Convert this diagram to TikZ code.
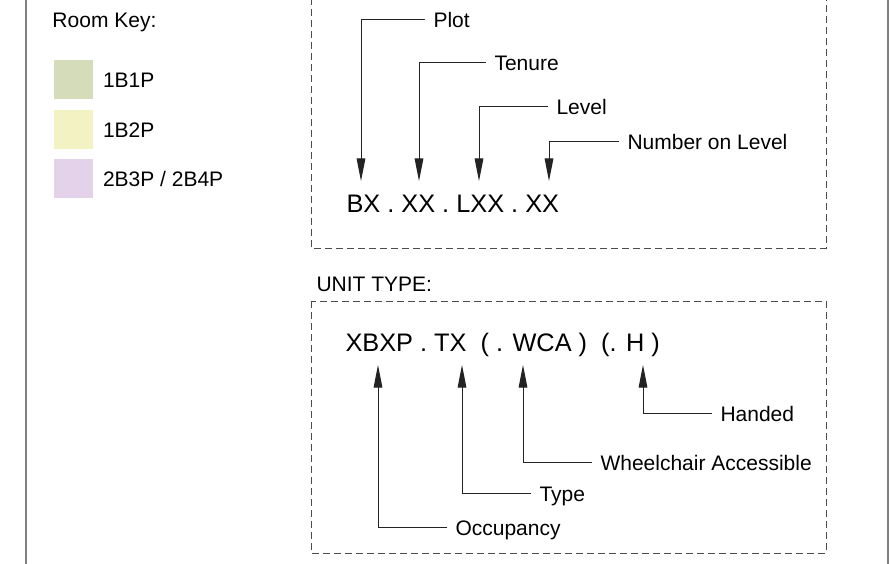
\documentclass[tikz,border=0pt]{standalone}
\usepackage{fontspec}
\setmainfont{Liberation Sans}
\usetikzlibrary{arrows.meta,positioning}

\definecolor{keygreen}{RGB}{213,220,185}
\definecolor{keyyellow}{RGB}{242,242,194}
\definecolor{keypurple}{RGB}{228,210,234}
\definecolor{edgegray}{RGB}{128,128,128}
\definecolor{leadgray}{RGB}{35,35,35}

\tikzset{every picture/.style={line width=0.75pt}}
\tikzset{
  keytext/.style={font=\fontsize{15.75}{18}\selectfont, inner sep=0pt, text height=12pt, text depth=0pt},
  labeltext/.style={keytext, anchor=west, inner xsep=6pt},
  codetext/.style={font=\fontsize{19}{22}\selectfont, inner sep=0pt, anchor=base west},
  swatchbox/.style={minimum size=29.25pt, inner sep=0pt},
  leader/.style={draw=leadgray, -{Triangle[length=17pt,width=6.5pt]}},
  dashbox/.style={draw=black!70, dash pattern=on 5.25pt off 3pt},
}

\begin{document}
\begin{tikzpicture}[x=0.75pt,y=0.75pt,yscale=-1,xscale=1]
	\useasboundingbox (0,0) rectangle (890,564);
	
	%Straight Lines [side rules]
	\draw [edgegray, line width=1.5pt] (26,0) -- (26,564);
	\draw [edgegray, line width=1.5pt] (888,0) -- (888,564);
	%Shape: Rectangle [plot frame]
	\draw [dashbox] (311,-2) -- (311,248) -- (826,248) -- (826,-2);
	%Shape: Rectangle [unit type frame]
	\draw [dashbox] (311,301) rectangle (826,553);
	
	% Room key
	\node [keytext, anchor=base west] (roomkey) at (52,27) {Room Key:};
	\node [swatchbox, fill=keygreen] (sw1) at (73.5,79) {};
	\node [swatchbox, fill=keyyellow] (sw2) at (73.5,129) {};
	\node [swatchbox, fill=keypurple] (sw3) at (73.5,178.5) {};
	\node [keytext, right=6.75pt of sw1] (key1) {1B1P};
	\node [keytext, right=6.75pt of sw2] (key2) {1B2P};
	\node [keytext, right=6.75pt of sw3] (key3) {2B3P / 2B4P};
	
	% Plot code
	\node [codetext] (plotcode) at (346,212) {BX . XX . LXX . XX};
	\coordinate (tipplot) at (361,181);
	\coordinate (tiptenure) at (419,181);
	\coordinate (tiplevel) at (479,181);
	\coordinate (tipnumber) at (549,181);
	\node [labeltext] (plot) at (425,19) {Plot};
	\node [labeltext] (tenure) at (486,62) {Tenure};
	\node [labeltext] (level) at (548,106) {Level};
	\node [labeltext] (number) at (619,141) {Number on Level};
	\draw [leader] (plot.west) -| (tipplot);
	\draw [leader] (tenure.west) -| (tiptenure);
	\draw [leader] (level.west) -| (tiplevel);
	\draw [leader] (number.west) -| (tipnumber);
	
	% Unit type code
	\node [keytext, anchor=base west] (unittype) at (316,291) {UNIT TYPE:};
	\node [codetext] (unitcode) at (345,351) {XBXP . TX~~( . WCA )~~(. H )};
	\coordinate (tipocc) at (378,365);
	\coordinate (tiptype) at (462,365);
	\coordinate (tipwca) at (523,365);
	\coordinate (tiphand) at (643,365);
	\node [labeltext] (handed) at (712,413) {Handed};
	\node [labeltext] (wca) at (592,462) {Wheelchair Accessible};
	\node [labeltext] (type) at (531,493) {Type};
	\node [labeltext] (occ) at (447,527) {Occupancy};
	\draw [leader] (handed.west) -| (tiphand);
	\draw [leader] (wca.west) -| (tipwca);
	\draw [leader] (type.west) -| (tiptype);
	\draw [leader] (occ.west) -| (tipocc);
	
\end{tikzpicture}
\end{document}
